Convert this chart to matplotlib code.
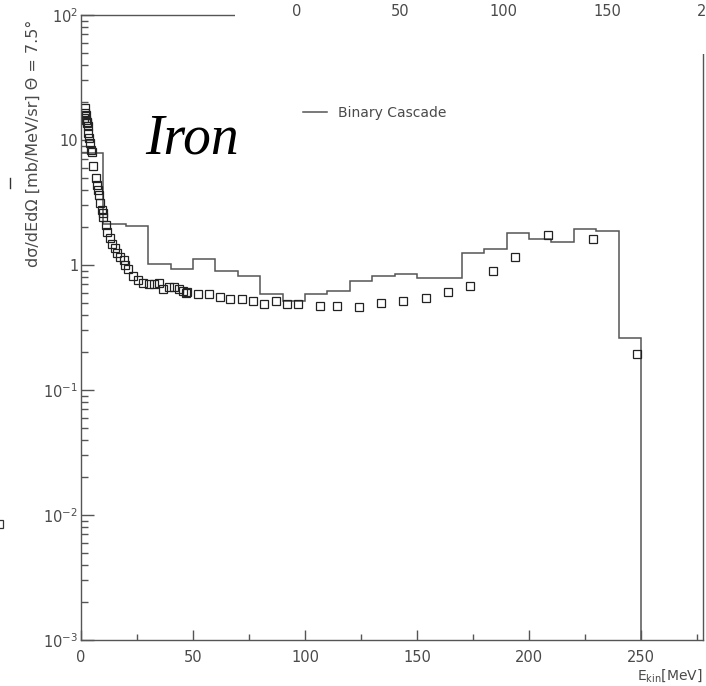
import matplotlib
matplotlib.use("Agg")
import matplotlib.pyplot as plt
from matplotlib.patches import Rectangle
from matplotlib.lines import Line2D
import numpy as np

# Binary Cascade prediction, 10 MeV bins from 0 to 250 MeV
bin_edges = [0, 10, 20, 30, 40, 50, 60, 70, 80, 90, 100, 110, 120, 130,
             140, 150, 160, 170, 180, 190, 200, 210, 220, 230, 240, 250]
cascade = [7.8, 2.12, 2.04, 1.01, 0.924, 1.11, 0.90, 0.817, 0.589, 0.515,
           0.589, 0.616, 0.74, 0.817, 0.847, 0.787, 0.787, 1.247, 1.335,
           1.80, 1.62, 1.536, 1.95, 1.88, 0.262]

# measured neutron spectrum
data_e = [1.5, 1.8, 2.0, 2.2, 2.4, 2.6, 2.8, 3.0, 3.3, 3.7, 4.0, 4.3, 4.8,
          5.5, 6.6, 7.3, 7.7, 7.9, 8.5, 9.2, 9.7, 10.0, 11.2, 11.7, 12.9,
          14.0, 15.2, 16.2, 17.4, 19.2, 19.6, 21.1, 23.3, 25.6, 27.8, 30.4,
          32.6, 35.0, 36.7, 39.4, 41.5, 43.8, 45.7, 46.7, 47.5, 52.4, 57.1,
          62.1, 66.5, 71.7, 76.9, 81.8, 86.9, 91.8, 97.0, 106.7, 114.4,
          124.2, 134.1, 143.9, 154.2, 164.0, 173.8, 184.1, 193.9, 208.6,
          228.4, 248.4]
data_v = [15.0, 16.5, 17.9, 15.8, 14.5, 14.0, 13.6, 13.0, 11.3, 10.3, 9.4,
          8.3, 8.0, 6.23, 4.94, 4.37, 3.98, 3.63, 3.12, 2.75, 2.59, 2.43,
          2.09, 1.85, 1.64, 1.47, 1.36, 1.25, 1.165, 1.10, 1.0, 0.93, 0.817,
          0.759, 0.722, 0.705, 0.705, 0.722, 0.639, 0.663, 0.663, 0.639,
          0.623, 0.60, 0.605, 0.586, 0.586, 0.551, 0.532, 0.537, 0.515,
          0.488, 0.518, 0.488, 0.488, 0.47, 0.47, 0.461, 0.497, 0.518, 0.541,
          0.605, 0.679, 0.895, 1.165, 1.75, 1.605, 0.193]

y_ticks = [1e-3, 1e-2, 1e-1, 1, 10, 100]
y_tick_labels = [r"$10^{-3}$", r"$10^{-2}$", r"$10^{-1}$", "1", "10", r"$10^{2}$"]
x_ticks = [0, 50, 100, 150, 200, 250]

# labels of the neighbouring panel's axis that sit over the top edge
top_labels = ["0", "50", "100", "150", "20"]
top_label_px = [297, 400, 503, 607, 697]

W, H = 706, 686
plt.rcParams['font.family'] = ['DejaVu Sans']
plt.rcParams['mathtext.default'] = 'regular'
fig = plt.figure(figsize=(W / 100, H / 100), dpi=100)
ax = fig.add_axes([81 / W, 46 / H, 622 / W, 625 / H])

ink = '#4a4a4a'
ax.stairs(cascade, bin_edges, baseline=1e-3, color='#555555', lw=1.1,
          label='Binary Cascade')
ax.plot(data_e, data_v, ls='none', marker='s', ms=5.6, mfc='none',
        mec='#222222', mew=0.9)

ax.set_yscale('log')
ax.set_ylim(1e-3, 100)
ax.set_xlim(0, 277.7)
ax.set_yticks(y_ticks)
ax.set_yticklabels(y_tick_labels)
ax.set_xticks(x_ticks)
ax.set_xticks(np.arange(25, 276, 50), minor=True)

for s in ax.spines.values():
    s.set_color('#555555')
    s.set_linewidth(1.0)
ax.tick_params(axis='both', which='both', direction='in', colors='#555555',
               labelcolor=ink, labelsize=10.5, width=1.0)
ax.tick_params(axis='y', which='major', length=9, pad=2)
ax.tick_params(axis='y', which='minor', length=5)
ax.tick_params(axis='x', which='major', length=7.5, pad=7)
ax.tick_params(axis='x', which='minor', length=4.5)

fig.text(703 / W, 1 - 676 / H, r"$E_{kin}$[MeV]", ha='right', va='center',
         fontsize=10, color=ink)
fig.text(33 / W, 1 - 143 / H, "dσ/dEdΩ [mb/MeV/sr] Θ = 7.5°", rotation=90,
         ha='center', va='center', fontsize=11.5, color=ink)

fig.text(145 / W, 1 - 153 / H, "Iron", family='Liberation Serif',
         style='italic', fontsize=40, ha='left', va='baseline',
         color='black')

ax.legend(loc='center left', bbox_to_anchor=(303 / W, 1 - 113 / H),
          bbox_transform=fig.transFigure, frameon=False, fontsize=10,
          handlelength=1.7, handletextpad=0.8, labelcolor=ink,
          borderpad=0, borderaxespad=0)

# overlapping panel above: blank strip with its axis labels
fig.add_artist(Rectangle((235 / W, 1 - 54 / H), 1, 54 / H,
                         transform=fig.transFigure, facecolor='white',
                         edgecolor='none', zorder=5))
for lab, px in zip(top_labels, top_label_px):
    ha = 'left' if lab == "20" else 'center'
    fig.text(px / W, 1 - 12 / H, lab, ha=ha, va='center', fontsize=10.5,
             color=ink, zorder=6)
fig.text(272 / W, 1 + 4 / H, "10", ha='center', va='center', fontsize=10.5,
         color=ink, zorder=6)

# stray marks at the left edge
fig.add_artist(Line2D([10 / W, 10 / W], [1 - 178 / H, 1 - 188 / H],
                      transform=fig.transFigure, color='#333333', lw=1))
fig.add_artist(Rectangle((-5 / W, 1 - 528 / H), 8 / W, 8 / H,
                         transform=fig.transFigure, facecolor='none',
                         edgecolor='#333333', lw=0.9))

fig.savefig('out.png', dpi=100)
